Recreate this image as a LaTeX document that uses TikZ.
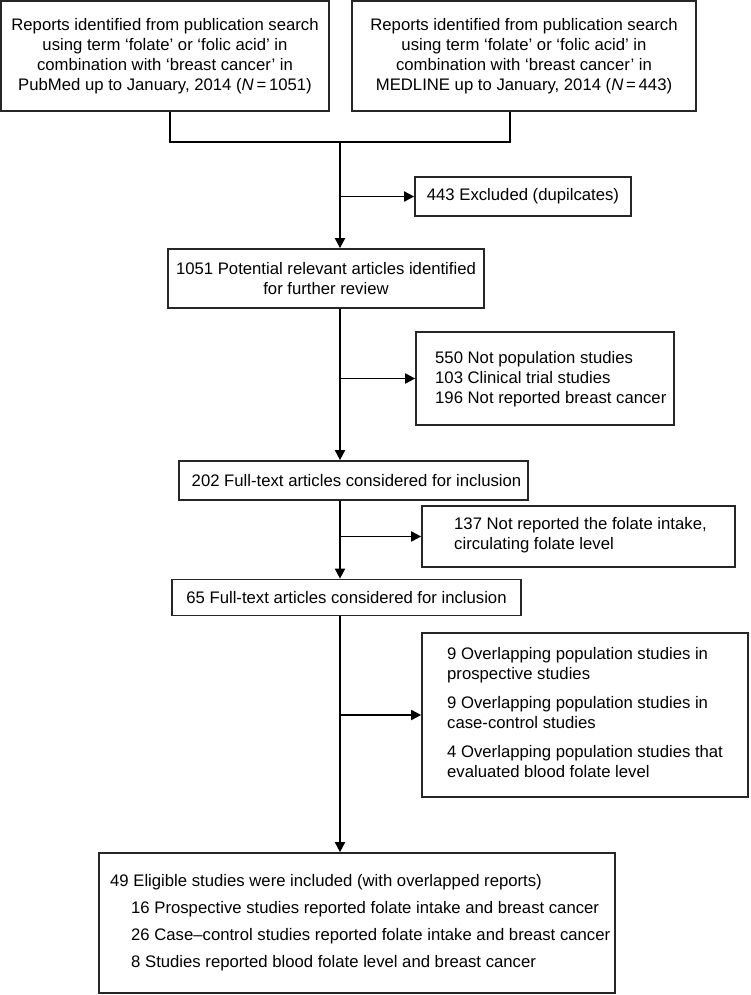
\documentclass[tikz,border=0pt]{standalone}
\usepackage{fontspec}
\setmainfont{Liberation Sans}
\usetikzlibrary{arrows.meta}
\begin{document}
\begin{tikzpicture}[x=1pt,y=-1pt,
  box/.style={draw=black!85, line width=1.7pt, inner sep=0pt, align=center, font=\fontsize{16.7}{20}\selectfont},
  txt/.style={inner sep=0pt, align=left, anchor=west, font=\fontsize{16.7}{20}\selectfont},
  conn/.style={line width=1.8pt},
  arr/.style={line width=1.8pt, -{Triangle[length=10pt,width=10pt]}}]
\fill[white] (0,0) rectangle (750,995);
\useasboundingbox (0,0) rectangle (750,995);
% boxes
\node[box, minimum width=328pt, minimum height=110pt] (a) at (165,56)
  {Reports identified from publication search\\using term ‘folate’ or ‘folic acid’ in\\combination with ‘breast cancer’ in\\PubMed up to January, 2014 (\textit{N}\,=\,1051)};
\node[box, minimum width=344pt, minimum height=110pt] (b) at (524,56)
  {Reports identified from publication search\\using term ‘folate’ or ‘folic acid’ in\\combination with ‘breast cancer’ in\\MEDLINE up to January, 2014 (\textit{N}\,=\,443)};
\node[box, minimum width=216pt, minimum height=39pt] (exc) at (523,196.5) {443 Excluded (dupilcates)};
\node[box, minimum width=316pt, minimum height=59pt] (c) at (326,278.5)
  {1051 Potential relevant articles identified\\for further review};
\node[box, minimum width=258pt, minimum height=93pt] (e) at (545,378.5) {};
\node[txt] (etext) at (435,379.5) {550 Not population studies\\103 Clinical trial studies\\196 Not reported breast cancer};
\node[box, minimum width=349pt, minimum height=39pt] (d) at (353.5,480.5)
  {\hspace*{6pt}202 Full-text articles considered for inclusion};
\node[box, minimum width=313pt, minimum height=61pt] (g) at (578.5,536.5) {};
\node[txt] (gtext) at (454,535) {137 Not reported the folate intake,\\circulating folate level};
\node[box, minimum width=349pt, minimum height=36pt] (f) at (346.5,597.5)
  {65 Full-text articles considered for inclusion};
\node[box, minimum width=326pt, minimum height=164pt] (i) at (585,715) {};
\node[txt] (itext) at (447,713) {9 Overlapping population studies in\\prospective studies\\[9pt]9 Overlapping population studies in\\case-control studies\\[9pt]4 Overlapping population studies that\\evaluated blood folate level};
\node[box, minimum width=516pt, minimum height=140pt] (h) at (357,923) {};
\node[txt, font=\fontsize{16.7}{27}\selectfont] (htext) at (110,923)
  {49 Eligible studies were included (with overlapped reports)\\
   \hspace*{21pt}16 Prospective studies reported folate intake and breast cancer\\
   \hspace*{21pt}26 Case–control studies reported folate intake and breast cancer\\
   \hspace*{21pt}8 Studies reported blood folate level and breast cancer};
% connectors
\coordinate (jl) at (170,142);
\coordinate (jr) at (510,142);
\coordinate (j) at (340,142);
\draw[conn] (a.south -| jl) -- (jl) -- (jr) -- (b.south -| jr);
\draw[arr] (j) -- (c.north -| j);
\draw[arr] (exc.west -| j) -- (exc.west);
\draw[arr] (c.south -| j) -- (d.north -| j);
\draw[arr] (e.west -| j) -- (e.west);
\draw[arr] (d.south -| j) -- (f.north -| j);
\draw[arr] (g.west -| j) -- (g.west);
\draw[arr] (f.south -| j) -- (h.north -| j);
\draw[arr] (i.west -| j) -- (i.west);
\end{tikzpicture}
\end{document}
